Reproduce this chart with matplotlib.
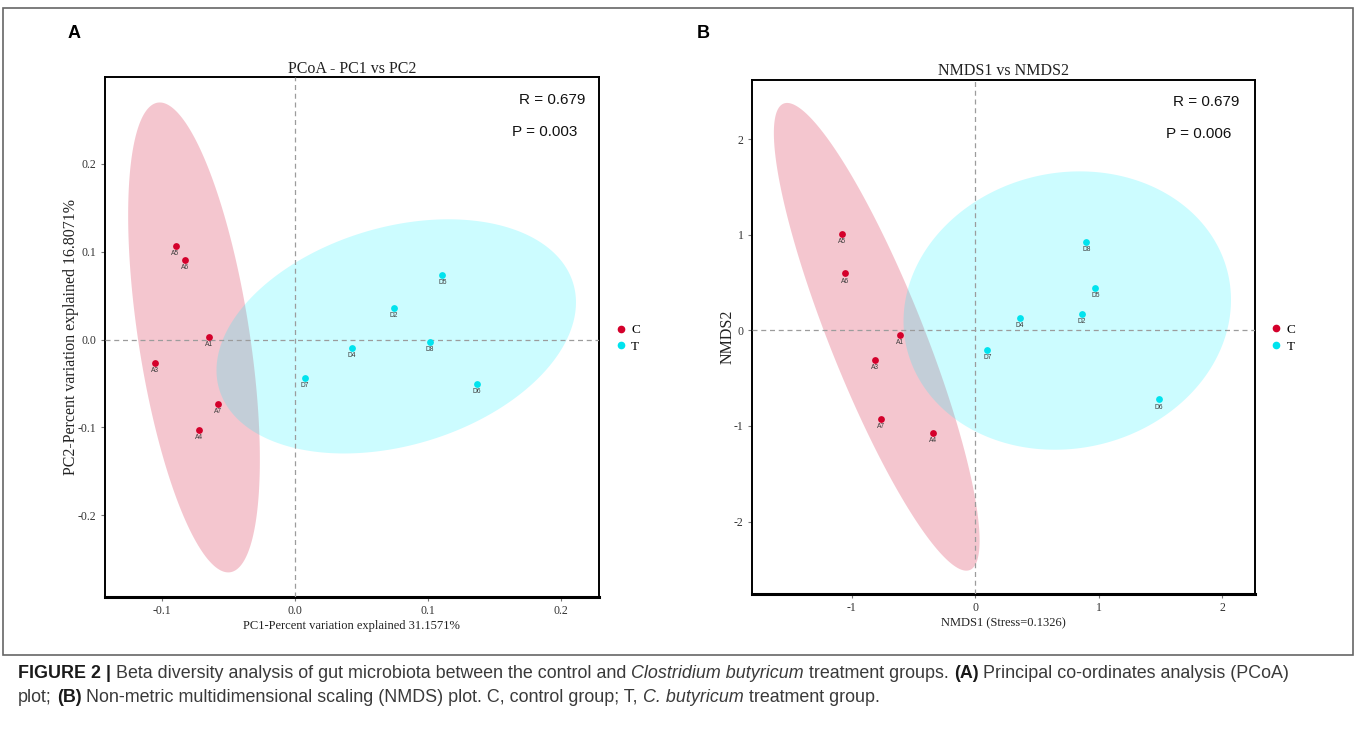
import numpy as np
import matplotlib
matplotlib.use("Agg")
import matplotlib.pyplot as plt
from matplotlib.lines import Line2D
from matplotlib.patches import Rectangle

# -----------------------------
# data
# -----------------------------
# panel A - PCoA
pcoa_c_labels = ["A5", "A6", "A1", "A3", "A7", "A4"]
pcoa_c_x = [-0.0897, -0.0822, -0.0647, -0.1053, -0.0576, -0.0717]
pcoa_c_y = [0.107, 0.0907, 0.003, -0.0269, -0.0732, -0.1027]
pcoa_t_labels = ["D5", "D2", "D8", "D4", "D7", "D6"]
pcoa_t_x = [0.1108, 0.0744, 0.1017, 0.0426, 0.0075, 0.1368]
pcoa_t_y = [0.0736, 0.0357, -0.0023, -0.0098, -0.0432, -0.05]
# ellipse: centre x, centre y, half-range x, half-range y, correlation
pcoa_ell_c = [-0.0758, 0.0025, 0.0495, 0.2675, -0.52]
pcoa_ell_t = [0.0762, 0.0037, 0.1351, 0.1333, 0.29]
pcoa_stats = ["R = 0.679", "P = 0.003"]

# panel B - NMDS
nmds_c_labels = ["A5", "A6", "A1", "A3", "A7", "A4"]
nmds_c_x = [-1.078, -1.058, -0.607, -0.812, -0.763, -0.341]
nmds_c_y = [1.006, 0.596, -0.046, -0.313, -0.925, -1.072]
nmds_t_labels = ["D8", "D5", "D2", "D4", "D7", "D6"]
nmds_t_x = [0.899, 0.971, 0.864, 0.361, 0.098, 1.488]
nmds_t_y = [0.921, 0.441, 0.174, 0.132, -0.205, -0.723]
nmds_ell_c = [-0.798, -0.0675, 0.8325, 2.4465, -0.871]
nmds_ell_t = [0.744, 0.207, 1.325, 1.456, 0.076]
nmds_stats = ["R = 0.679", "P = 0.006"]

group_names = ["C", "T"]

RED = "#D4002B"
CYAN = "#00E3EE"
SERIF = ["Liberation Serif", "DejaVu Serif"]
SANS = ["Liberation Sans", "DejaVu Sans"]

W, H = 1357, 732


def ellipse_pts(cx, cy, rx, ry, rho, n=300):
    cov = np.array([[rx * rx, rho * rx * ry], [rho * rx * ry, ry * ry]])
    L = np.linalg.cholesky(cov)
    t = np.linspace(0, 2 * np.pi, n)
    xy = L @ np.vstack([np.cos(t), np.sin(t)])
    return cx + xy[0], cy + xy[1]


def draw_panel(ax, cx, cy, clab, tx, ty, tlab, ell_c, ell_t, stats,
               title, xlabel, ylabel, xlim, ylim, xticks, yticks, xfmt, yfmt):
    ex, ey = ellipse_pts(*ell_c)
    ax.fill(ex, ey, color=(0.86, 0.2, 0.33), alpha=0.28, lw=0, zorder=1)
    ex, ey = ellipse_pts(*ell_t)
    ax.fill(ex, ey, color=(0.0, 0.95, 1.0), alpha=0.2, lw=0, zorder=2)

    ax.axhline(0, color="#9c9c9c", lw=0.9, ls=(0, (4, 3)), zorder=3)
    ax.axvline(0, color="#9c9c9c", lw=0.9, ls=(0, (4, 3)), zorder=3)

    ax.scatter(cx, cy, s=24, color=RED, zorder=5, lw=0)
    ax.scatter(tx, ty, s=24, color=CYAN, zorder=5, lw=0)
    for x, y, lab in list(zip(cx, cy, clab)) + list(zip(tx, ty, tlab)):
        ax.annotate(lab, (x, y), xytext=(0, -3), textcoords="offset points",
                    ha="center", va="top", fontsize=4.8, color="#3a3a3a",
                    family=SANS, zorder=6)

    ax.text(0.838, 0.956, stats[0], transform=ax.transAxes, fontsize=11,
            family=SANS, va="center", ha="left", color="#111111")
    ax.text(0.824, 0.895, stats[1], transform=ax.transAxes, fontsize=11,
            family=SANS, va="center", ha="left", color="#111111")

    ax.set_xlim(xlim)
    ax.set_ylim(ylim)
    ax.set_xticks(xticks)
    ax.set_yticks(yticks)
    ax.set_xticklabels([xfmt.format(v) for v in xticks], family=SERIF, fontsize=8.5, color="#333333")
    ax.set_yticklabels([yfmt.format(v) for v in yticks], family=SERIF, fontsize=8.5, color="#333333")
    ax.tick_params(length=3, width=0.8, color="#777777", pad=3)
    for side in ["top", "right", "left"]:
        ax.spines[side].set_linewidth(1.4)
    ax.spines["bottom"].set_linewidth(2.2)

    ax.set_title(title, family=SERIF, fontsize=11.5, pad=3, color="#222222")
    ax.set_xlabel(xlabel, family=SERIF, fontsize=9, labelpad=2, color="#222222")
    ax.set_ylabel(ylabel, family=SERIF, fontsize=11.5, labelpad=-1, color="#222222")

    handles = [Line2D([], [], marker="o", ls="", color=RED, markersize=4.5),
               Line2D([], [], marker="o", ls="", color=CYAN, markersize=4.5)]
    ax.legend(handles, group_names, loc="center left", bbox_to_anchor=(1.025, 0.497),
              frameon=False, handlelength=0.6, handletextpad=0.5, labelspacing=0.35,
              prop={"family": SERIF, "size": 9.5}, borderaxespad=0)


fig = plt.figure(figsize=(W / 100, H / 100), dpi=100)

axA = fig.add_axes([104.6 / W, 1 - 597 / H, (599 - 104.6) / W, (597 - 77) / H])
draw_panel(axA, pcoa_c_x, pcoa_c_y, pcoa_c_labels, pcoa_t_x, pcoa_t_y, pcoa_t_labels,
           pcoa_ell_c, pcoa_ell_t, pcoa_stats, "PCoA - PC1 vs PC2",
           "PC1-Percent variation explained 31.1571%",
           "PC2-Percent variation explained 16.8071%",
           (-0.143, 0.2286), (-0.293, 0.299), [-0.1, 0.0, 0.1, 0.2],
           [-0.2, -0.1, 0.0, 0.1, 0.2], "{:.1f}", "{:.1f}")

axB = fig.add_axes([751.8 / W, 1 - 594 / H, (1254.6 - 751.8) / W, (594 - 79.6) / H])
draw_panel(axB, nmds_c_x, nmds_c_y, nmds_c_labels, nmds_t_x, nmds_t_y, nmds_t_labels,
           nmds_ell_c, nmds_ell_t, nmds_stats, "NMDS1 vs NMDS2",
           "NMDS1 (Stress=0.1326)", "NMDS2",
           (-1.809, 2.26), (-2.758, 2.623), [-1, 0, 1, 2],
           [-2, -1, 0, 1, 2], "{:d}", "{:d}")

# panel letters and outer frame
fig.text(68 / W, 1 - 33 / H, "A", family=SANS, fontweight="bold", fontsize=13, va="center")
fig.text(697 / W, 1 - 33 / H, "B", family=SANS, fontweight="bold", fontsize=13, va="center")
fig.add_artist(Rectangle((3 / W, 1 - 655 / H), (1353 - 3) / W, (655 - 8) / H,
                         transform=fig.transFigure, fill=False, ec="#666666", lw=1.2))

# -----------------------------
# caption with mixed styles
# -----------------------------
caption_lines = [
    [("FIGURE 2 |", "bold", "normal"),
     ("Beta diversity analysis of gut microbiota between the control and", "normal", "normal"),
     ("Clostridium butyricum", "normal", "italic"),
     ("treatment groups.", "normal", "normal"),
     ("(A)", "bold", "normal"),
     ("Principal co-ordinates analysis (PCoA)", "normal", "normal")],
    [("plot;", "normal", "normal"),
     ("(B)", "bold", "normal"),
     ("Non-metric multidimensional scaling (NMDS) plot. C, control group; T,", "normal", "normal"),
     ("C. butyricum", "normal", "italic"),
     ("treatment group.", "normal", "normal")],
]
renderer = fig.canvas.get_renderer()


def text_width(s, size, weight="normal", style="normal"):
    t = fig.text(0, 0, s, family=SANS, fontsize=size, fontweight=weight, fontstyle=style)
    w = t.get_window_extent(renderer).width
    t.remove()
    return w


def line_width(runs, size):
    gap = text_width("x x", size) - text_width("xx", size)
    return sum(text_width(s, size, wt, st) for s, wt, st in runs) + gap * (len(runs) - 1)


def draw_runs(x0, y0, runs, size):
    gap = text_width("x x", size) - text_width("xx", size)
    x = x0
    for s, weight, style in runs:
        color = "#1a1a1a" if weight == "bold" else "#3a3a3a"
        fig.text(x / W, 1 - y0 / H, s, family=SANS, fontsize=size, fontweight=weight,
                 fontstyle=style, color=color, va="center", ha="left")
        x += text_width(s, size, weight, style) + gap


# first caption line runs from x=18 to about x=1290 in the reference
cap_size = 11.5 * (1272 / line_width(caption_lines[0], 11.5))
draw_runs(18, 674, caption_lines[0], cap_size)
draw_runs(18, 698, caption_lines[1], cap_size)

fig.savefig("out.png", dpi=100)
